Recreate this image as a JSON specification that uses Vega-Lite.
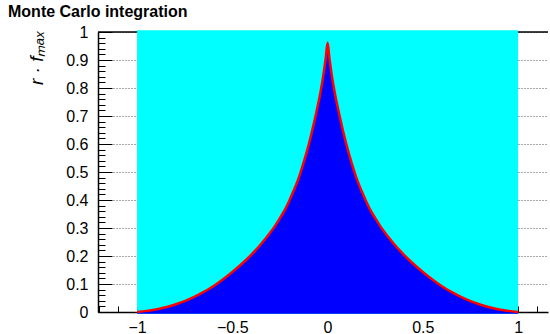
{
  "$schema": "https://vega.github.io/schema/vega-lite/v6.json",
  "width": 450,
  "height": 280,
  "autosize": "none",
  "padding": {"left": 98, "top": 32, "right": 2, "bottom": 22},
  "background": "white",
  "view": {"stroke": null},
  "title": {
    "text": "Monte Carlo integration",
    "anchor": "start",
    "frame": "group",
    "dx": -90,
    "offset": 4,
    "font": "Liberation Sans",
    "fontSize": 16,
    "fontWeight": "bold",
    "color": "black"
  },
  "datasets": {
    "region": [{"x0": -1, "x1": 1, "y0": -0.006, "y1": 1.006}],
    "curve": [
      {"x": -1.0, "y": 0.0},
      {"x": -0.95, "y": 0.004},
      {"x": -0.9, "y": 0.009},
      {"x": -0.85, "y": 0.017},
      {"x": -0.8, "y": 0.027},
      {"x": -0.75, "y": 0.039},
      {"x": -0.7, "y": 0.054},
      {"x": -0.65, "y": 0.072},
      {"x": -0.6, "y": 0.092},
      {"x": -0.55, "y": 0.116},
      {"x": -0.5, "y": 0.143},
      {"x": -0.46, "y": 0.166},
      {"x": -0.42, "y": 0.191},
      {"x": -0.38, "y": 0.219},
      {"x": -0.35, "y": 0.242},
      {"x": -0.32, "y": 0.267},
      {"x": -0.28, "y": 0.303},
      {"x": -0.25, "y": 0.335},
      {"x": -0.22, "y": 0.37},
      {"x": -0.18, "y": 0.43},
      {"x": -0.15, "y": 0.482},
      {"x": -0.125, "y": 0.535},
      {"x": -0.1, "y": 0.595},
      {"x": -0.08, "y": 0.65},
      {"x": -0.06, "y": 0.71},
      {"x": -0.04, "y": 0.775},
      {"x": -0.02, "y": 0.855},
      {"x": -0.01, "y": 0.905},
      {"x": 0.0, "y": 0.962},
      {"x": 0.01, "y": 0.905},
      {"x": 0.02, "y": 0.855},
      {"x": 0.04, "y": 0.775},
      {"x": 0.06, "y": 0.71},
      {"x": 0.08, "y": 0.65},
      {"x": 0.1, "y": 0.595},
      {"x": 0.125, "y": 0.535},
      {"x": 0.15, "y": 0.482},
      {"x": 0.18, "y": 0.43},
      {"x": 0.22, "y": 0.37},
      {"x": 0.25, "y": 0.335},
      {"x": 0.28, "y": 0.303},
      {"x": 0.32, "y": 0.267},
      {"x": 0.35, "y": 0.242},
      {"x": 0.38, "y": 0.219},
      {"x": 0.42, "y": 0.191},
      {"x": 0.46, "y": 0.166},
      {"x": 0.5, "y": 0.143},
      {"x": 0.55, "y": 0.116},
      {"x": 0.6, "y": 0.092},
      {"x": 0.65, "y": 0.072},
      {"x": 0.7, "y": 0.054},
      {"x": 0.75, "y": 0.039},
      {"x": 0.8, "y": 0.027},
      {"x": 0.85, "y": 0.017},
      {"x": 0.9, "y": 0.009},
      {"x": 0.95, "y": 0.004},
      {"x": 1.0, "y": 0.0}
    ]
  },
  "resolve": {"axis": {"y": "independent"}},
  "layer": [
    {
      "data": {"name": "region"},
      "mark": {"type": "rule", "color": "black", "strokeWidth": 1.5},
      "encoding": {"y": {"datum": 1, "axis": null}}
    },
    {
      "data": {"name": "region"},
      "mark": {"type": "rect", "color": "#00ffff", "opacity": 1},
      "encoding": {
        "x": {
          "field": "x0",
          "type": "quantitative",
          "scale": {"domain": [-1.205, 1.157], "nice": false, "zero": false},
          "axis": {
            "values": [-1.2, -1.1, -1, -0.5, 0, 0.5, 1, 1.1],
            "format": "~g",
            "labelExpr": "abs(datum.value) > 1.05 ? '' : datum.label",
            "title": null,
            "grid": false,
            "domainColor": "black",
            "domainWidth": 1.5,
            "tickColor": "black",
            "tickWidth": 1,
            "tickSize": -6,
            "labelFont": "Liberation Sans",
            "labelFontSize": 16,
            "labelColor": "black",
            "labelPadding": 13,
            "labelFlush": false,
            "labelOverlap": false,
            "labelBound": false
          }
        },
        "x2": {"field": "x1"},
        "y": {
          "field": "y0",
          "type": "quantitative",
          "scale": {"domain": [0, 1], "nice": false, "zero": false},
          "axis": {
            "orient": "left",
            "values": [0, 0.1, 0.2, 0.3, 0.4, 0.5, 0.6, 0.7, 0.8, 0.9, 1],
            "format": "~g",
            "title": "r · fₘₐₓ",
            "titleFont": "Liberation Sans",
            "titleFontStyle": "italic",
            "titleFontWeight": "normal",
            "titleFontSize": 19,
            "titleColor": "black",
            "titleAngle": 270,
            "titleAlign": "right",
            "titleBaseline": "alphabetic",
            "titleX": -56,
            "titleY": -2,
            "grid": true,
            "gridColor": "#555555",
            "gridDash": [1, 2],
            "gridWidth": 1,
            "domainColor": "black",
            "domainWidth": 1.5,
            "tickColor": "black",
            "tickWidth": 1,
            "tickSize": -14,
            "labelFont": "Liberation Sans",
            "labelFontSize": 16,
            "labelColor": "black",
            "labelPadding": 24,
            "labelFlush": false,
            "labelOverlap": false,
            "labelBound": false
          }
        },
        "y2": {"field": "y1"}
      }
    },
    {
      "data": {"name": "curve"},
      "mark": {"type": "area", "color": "#0000ff", "interpolate": "monotone", "opacity": 1},
      "encoding": {
        "x": {"field": "x", "type": "quantitative"},
        "y": {
          "field": "y",
          "type": "quantitative",
          "axis": {
            "orient": "right",
            "offset": -450,
            "values": [0.02, 0.04, 0.06, 0.08, 0.12, 0.14, 0.16, 0.18, 0.22, 0.24, 0.26, 0.28, 0.32, 0.34, 0.36, 0.38, 0.42, 0.44, 0.46, 0.48, 0.52, 0.54, 0.56, 0.58, 0.62, 0.64, 0.66, 0.68, 0.72, 0.74, 0.76, 0.78, 0.82, 0.84, 0.86, 0.88, 0.92, 0.94, 0.96, 0.98],
            "title": null,
            "labels": false,
            "domain": false,
            "grid": false,
            "tickColor": "black",
            "tickWidth": 1,
            "tickSize": 7
          }
        },
        "y2": {"datum": -0.006}
      }
    },
    {
      "data": {"name": "curve"},
      "mark": {"type": "line", "color": "#ff0000", "strokeWidth": 2.5, "interpolate": "monotone"},
      "encoding": {
        "x": {"field": "x", "type": "quantitative"},
        "y": {"field": "y", "type": "quantitative", "axis": null}
      }
    }
  ]
}
